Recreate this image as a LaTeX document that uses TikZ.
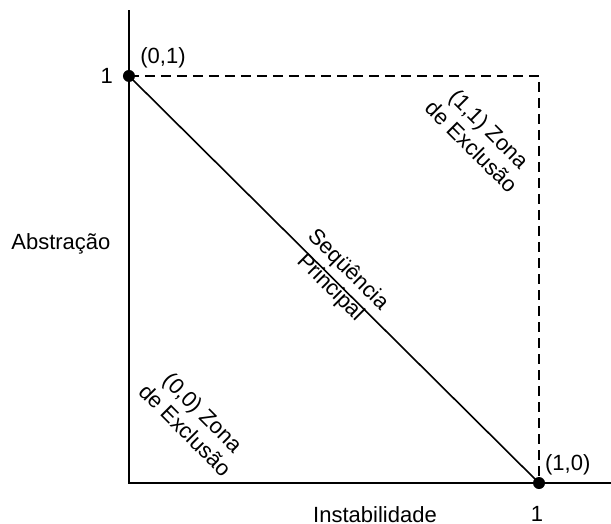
\documentclass[tikz,border=0pt]{standalone}
\usepackage{fontspec}
\setmainfont{Liberation Sans}
\usetikzlibrary{positioning}

\begin{document}
\begin{tikzpicture}[x=205pt, y=203.5pt, every node/.style={font=\fontsize{11}{12.5}\selectfont},
  zonelabel/.style={rotate=-45, align=center, inner sep=0pt},
  ptdot/.style={circle, fill=black, inner sep=0pt, minimum size=6pt}]
\useasboundingbox (-0.3146,-0.1007) rectangle (1.1756,1.1867);
\coordinate (O) at (0,0);
\coordinate (ytop) at (0,1.162);
\coordinate (xend) at (1.1756,0);
\coordinate (c01) at (0,1);
\coordinate (c10) at (1,0);
\coordinate (c11) at (1,1);
% axes
\draw[line width=1pt] (ytop) -- (O) -- (xend);
% border of the (1,1) zone
\draw[line width=0.9pt, dash pattern=on 5pt off 3pt] (c01) -- (c11) -- (c10);
% main sequence
\draw[line width=0.8pt] (c01) -- (c10);
\node[ptdot] (p01) at (c01) {};
\node[ptdot] (p10) at (c10) {};
\node (one01) at (-0.054,1) {1};
\node (lab01) at (0.083,1.044) {(0,1)};
\node (lab10) at (1.070,0.044) {(1,0)};
\node[inner sep=0pt] (one10) at (0.995,-0.077) {1};
\node[inner sep=0pt] (xlabel) at (0.600,-0.077) {Instabilidade};
\node (ylabel) at (-0.166,0.587) {Abstração};
\node[zonelabel] (seq) at (0.512,0.501) {Seqüência\\Principal};
\node[zonelabel] (zone11) at (0.857,0.849) {(1,1) Zona\\de Exclusão};
\node[zonelabel] (zone00) at (0.159,0.152) {(0,0) Zona\\de Exclusão};
\end{tikzpicture}
\end{document}
